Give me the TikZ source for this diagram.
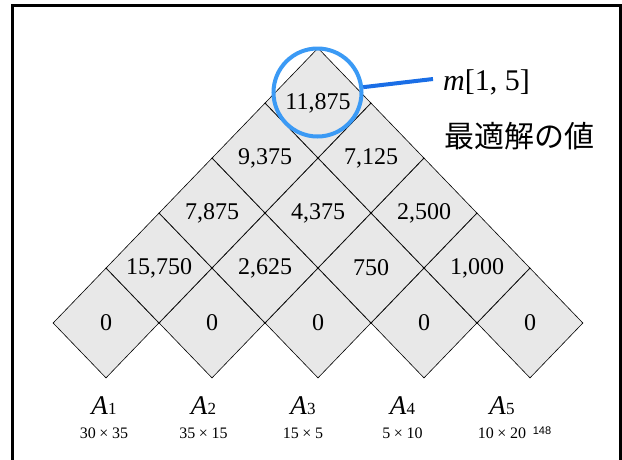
\documentclass[tikz,border=0pt]{standalone}
\usepackage{fontspec}
\setmainfont{Liberation Serif}
\newfontfamily\cjk{Noto Sans CJK JP}
\newfontfamily\sansfnt{Liberation Sans}
\usetikzlibrary{shapes.geometric}
\definecolor{cellgray}{HTML}{E8E8E8}
\definecolor{ringblue}{RGB}{59,154,245}
\definecolor{lineblue}{RGB}{26,110,230}
\begin{document}
\begin{tikzpicture}[x=1pt,y=-1pt,
  cell/.style={shape=diamond, draw=black, line width=0.6pt, fill=cellgray,
    minimum width=106pt, minimum height=110pt, inner sep=0pt,
    font=\fontsize{24}{24}\selectfont},
  mlabel/.style={inner sep=0pt, font=\fontsize{27}{27}\selectfont},
  dimlabel/.style={inner sep=0pt, font=\fontsize{16}{16}\selectfont},
  ring/.style={shape=circle, draw=ringblue, line width=4pt, minimum size=88pt, inner sep=0pt},
  pointer/.style={draw=lineblue, line width=4pt}]
\useasboundingbox (0,0) rectangle (622,459);
\draw[line width=3pt] (12,480) -- (12,5) -- (620,5) -- (620,480);
% row 0
\node[cell] (c11) at (106,323) {0};
\node[cell] (c22) at (212,323) {0};
\node[cell] (c33) at (318,323) {0};
\node[cell] (c44) at (424,323) {0};
\node[cell] (c55) at (530,323) {0};
% row 1
\node[cell] (c12) at (159,268) {15,750};
\node[cell] (c23) at (265,268) {2,625};
\node[cell] (c34) at (371,268) {750};
\node[cell] (c45) at (477,268) {1,000};
% row 2
\node[cell] (c13) at (212,213) {7,875};
\node[cell] (c24) at (318,213) {4,375};
\node[cell] (c35) at (424,213) {2,500};
% row 3
\node[cell] (c14) at (265,158) {9,375};
\node[cell] (c25) at (371,158) {7,125};
% row 4
\node[cell] (c15) at (318,103) {11,875};
% highlight
\node[ring] (circ) at (317.5,92.5) {};
\coordinate (pend) at (433,79);
\draw[pointer] (circ) -- (pend);
\node[anchor=west, inner sep=0pt, font=\fontsize{30}{30}\selectfont] (mval) at (443,82) {\textit{m}[1, 5]};
\node[anchor=west, inner sep=0pt, font=\fontsize{30}{30}\selectfont\cjk] (opt) at (444,136) {最適解の値};
% matrices
\foreach \k/\a/\b [count=\n] in {0/30/35, 1/35/15, 2/15/5, 3/5/10, 4/10/20}{
  \node[mlabel] (a\n) at ({104+99.5*\k},406) {\textit{A}{\fontsize{17}{17}\selectfont\n}};
  \node[dimlabel] (d\n) at ({104+99.5*\k},433) {\a\hspace{0.22em}×\hspace{0.22em}\b};
}
\node[inner sep=0pt, font=\fontsize{11}{11}\selectfont\sansfnt] (pg) at (542,431) {148};
\end{tikzpicture}
\end{document}
